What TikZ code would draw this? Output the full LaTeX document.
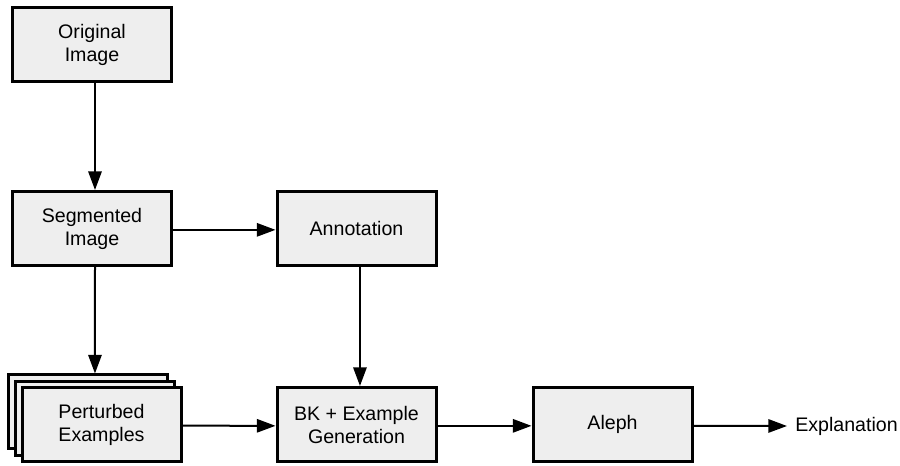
\documentclass[tikz,border=0pt]{standalone}
\usepackage{fontspec}
\setmainfont{Liberation Sans}
\usepackage{xcolor}
\usetikzlibrary{arrows.meta,shadows}

\definecolor{boxgray}{HTML}{EEEEEE}

\begin{document}
\begin{tikzpicture}[x=0.75pt,y=-0.75pt,
    box/.style={draw,line width=2.25pt,fill=boxgray,minimum width=119.25pt,
      minimum height=55.5pt,align=center,
      font=\fontsize{14.7}{17.25}\selectfont},
    stackbox/.style={box,double copy shadow={shadow xshift=-4.9pt,shadow yshift=4.9pt}},
    arr/.style={line width=1.5pt,-{Triangle[length=14pt,width=10pt]}}]
      \path[use as bounding box] (0,0) rectangle (900,466); % adjust to fit

      \node[box] (orig) at (92,44.5) {Original\\Image};
      \node[box] (seg) at (92,228.5) {Segmented\\Image};
      \node[box] (annot) at (356.5,228.5) {Annotation};
      \node[stackbox] (pert) at (101.5,425) {Perturbed\\Examples};
      \node[box] (bkgen) at (356.5,424.5) {BK + Example\\Generation};
      \node[box] (aleph) at (612.5,424.5) {Aleph};
      \node[anchor=west,inner sep=6pt,font=\fontsize{14.7}{17.25}\selectfont] (expl) at (787,426) {Explanation};

      \draw[arr] ([xshift=2.25pt]orig.south) -- ([xshift=2.25pt]seg.north);
      \draw[arr] ([xshift=2.25pt]seg.south) -- ([xshift=-4.9pt,yshift=9.75pt]pert.north);
      \draw[arr] ([yshift=-1pt]seg.east) -- ([yshift=-1pt]annot.west);
      \draw[arr] ([xshift=2.6pt]annot.south) -- ([xshift=2.6pt]bkgen.north);
      \draw[arr] ([yshift=-0.5pt]pert.east) -- ([yshift=-1pt]bkgen.west);
      \draw[arr] ([yshift=-1pt]bkgen.east) -- ([yshift=-1pt]aleph.west);
      \draw[arr] ([yshift=-1pt]aleph.east) -- (expl.west);
\end{tikzpicture}
\end{document}
